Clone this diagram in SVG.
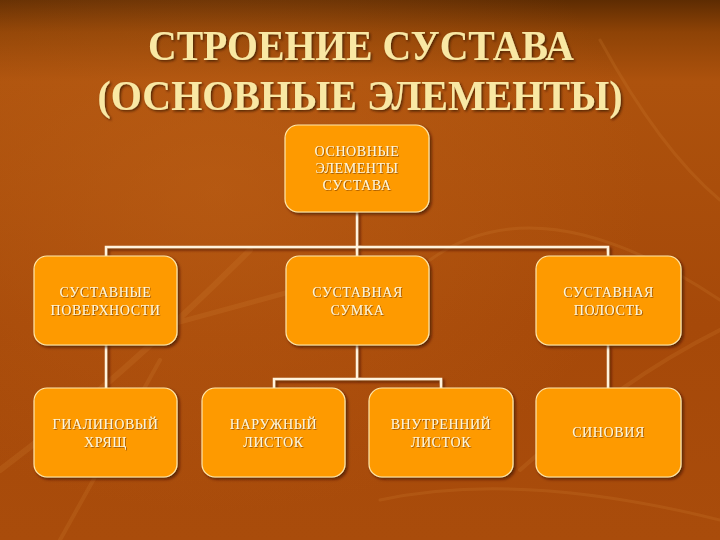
<svg xmlns="http://www.w3.org/2000/svg" width="720" height="540" viewBox="0 0 720 540">
<defs>
<linearGradient id="bg" x1="0" y1="0" x2="0" y2="1">
<stop offset="0" stop-color="#5e2c02"/>
<stop offset="0.06" stop-color="#8e4306"/>
<stop offset="0.15" stop-color="#ad520d"/>
<stop offset="0.6" stop-color="#a64909"/>
<stop offset="1" stop-color="#a94c0b"/>
</linearGradient>
<radialGradient id="glow" cx="0.3" cy="0.35" r="0.6">
<stop offset="0" stop-color="#c4661a" stop-opacity="0.45"/>
<stop offset="1" stop-color="#c4661a" stop-opacity="0"/>
</radialGradient>
<filter id="sh" x="-10%" y="-10%" width="130%" height="130%">
<feDropShadow dx="2" dy="2" stdDeviation="1.5" flood-color="#3a1400" flood-opacity="0.7"/>
</filter>
<filter id="tsh" x="-10%" y="-10%" width="130%" height="130%">
<feDropShadow dx="1.5" dy="1.5" stdDeviation="0.8" flood-color="#3a1400" flood-opacity="0.8"/>
</filter>
<filter id="tsm" x="-10%" y="-10%" width="130%" height="130%">
<feDropShadow dx="0.8" dy="0.8" stdDeviation="0.4" flood-color="#7a3a00" flood-opacity="0.8"/>
</filter>
</defs>
<style>
.box{fill:#fe9a05;stroke:#ffe7a8;stroke-width:1.2;filter:url(#sh)}
.lbl{font-family:"Liberation Serif","Times New Roman",serif;font-size:14px;letter-spacing:0.6px;fill:#fff6d8;text-anchor:middle;filter:url(#tsm)}
.ttl{font-family:"Liberation Serif","Times New Roman",serif;font-size:42px;font-weight:bold;fill:#f9e8a4;text-anchor:middle;filter:url(#tsh)}
.con{fill:none;stroke:#fff3dc;stroke-width:2.5;filter:url(#sh)}
.deco{fill:none;stroke:#d88a3a;stroke-linecap:round}
</style>
<rect width="720" height="540" fill="url(#bg)"/>
<rect width="720" height="540" fill="url(#glow)"/>
<g opacity="0.18">
<path class="deco" d="M0,470 Q120,380 250,250" stroke-width="6"/>
<path class="deco" d="M60,540 L160,360" stroke-width="4"/>
<path class="deco" d="M150,330 Q260,300 370,270" stroke-width="5"/>
<path class="deco" d="M430,260 Q540,180 720,300" stroke-width="3"/>
<path class="deco" d="M520,470 Q620,380 720,330" stroke-width="4"/>
<path class="deco" d="M600,40 Q660,150 720,200" stroke-width="3"/>
<path class="deco" d="M380,500 Q520,470 720,520" stroke-width="3"/>
</g>
<g id="title">
<text class="ttl" x="361" y="60" textLength="426" lengthAdjust="spacingAndGlyphs">СТРОЕНИЕ СУСТАВА</text>
<text class="ttl" x="360" y="110" textLength="525" lengthAdjust="spacingAndGlyphs">(ОСНОВНЫЕ ЭЛЕМЕНТЫ)</text>
</g>
<g id="connectors">
<path class="con" d="M357,212 V247 M106,345 V247 H608 V256 M106,247 V256 M357,247 V256 M106,345 V388 M357,345 V379 M274,388 V379 H441 V388 M608,345 V388"/>
</g>
<g id="n-root">
<rect class="box" x="285" y="125" width="144" height="87" rx="13"/>
<text class="lbl" x="357" y="156">ОСНОВНЫЕ</text>
<text class="lbl" x="357" y="173">ЭЛЕМЕНТЫ</text>
<text class="lbl" x="357" y="190">СУСТАВА</text>
</g>
<g id="n-surfaces">
<rect class="box" x="34" y="256" width="143" height="89" rx="13"/>
<text class="lbl" x="105.5" y="297">СУСТАВНЫЕ</text>
<text class="lbl" x="105.5" y="315">ПОВЕРХНОСТИ</text>
</g>
<g id="n-capsule">
<rect class="box" x="286" y="256" width="143" height="89" rx="13"/>
<text class="lbl" x="357.5" y="297">СУСТАВНАЯ</text>
<text class="lbl" x="357.5" y="315">СУМКА</text>
</g>
<g id="n-cavity">
<rect class="box" x="536" y="256" width="145" height="89" rx="13"/>
<text class="lbl" x="608.5" y="297">СУСТАВНАЯ</text>
<text class="lbl" x="608.5" y="315">ПОЛОСТЬ</text>
</g>
<g id="n-cartilage">
<rect class="box" x="34" y="388" width="143" height="89" rx="13"/>
<text class="lbl" x="105.5" y="429">ГИАЛИНОВЫЙ</text>
<text class="lbl" x="105.5" y="447">ХРЯЩ</text>
</g>
<g id="n-outer">
<rect class="box" x="202" y="388" width="143" height="89" rx="13"/>
<text class="lbl" x="273.5" y="429">НАРУЖНЫЙ</text>
<text class="lbl" x="273.5" y="447">ЛИСТОК</text>
</g>
<g id="n-inner">
<rect class="box" x="369" y="388" width="144" height="89" rx="13"/>
<text class="lbl" x="441" y="429">ВНУТРЕННИЙ</text>
<text class="lbl" x="441" y="447">ЛИСТОК</text>
</g>
<g id="n-synovia">
<rect class="box" x="536" y="388" width="145" height="89" rx="13"/>
<text class="lbl" x="608.5" y="437">СИНОВИЯ</text>
</g>
</svg>
